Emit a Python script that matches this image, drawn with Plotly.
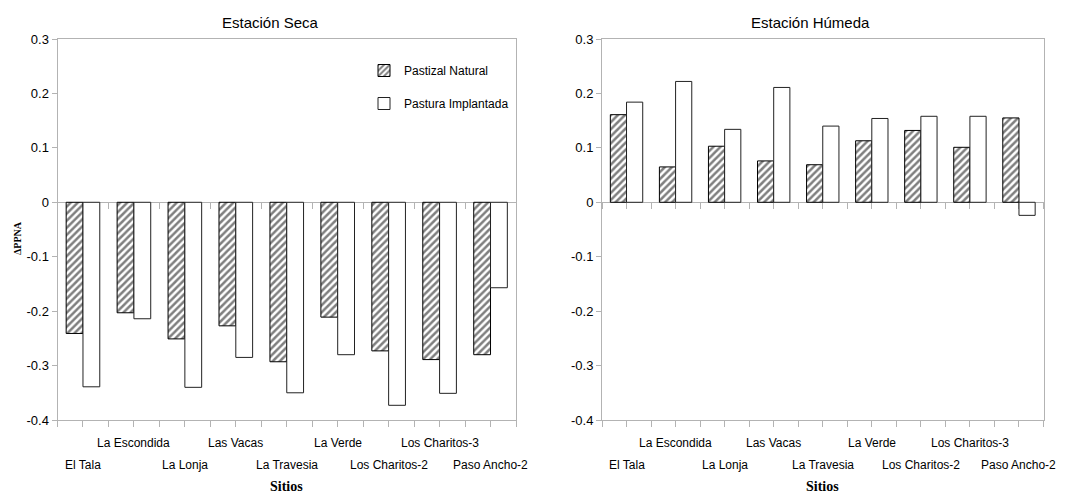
import plotly.graph_objects as go

sites = ["El Tala", "La Escondida", "La Lonja", "Las Vacas", "La Travesia",
         "La Verde", "Los Charitos-2", "Los Charitos-3", "Paso Ancho-2"]
seca_pastizal = [-0.241, -0.203, -0.251, -0.227, -0.293, -0.211, -0.273, -0.289, -0.280]
seca_pastura = [-0.339, -0.214, -0.340, -0.285, -0.350, -0.280, -0.373, -0.351, -0.157]
humeda_pastizal = [0.161, 0.065, 0.103, 0.076, 0.069, 0.113, 0.132, 0.101, 0.155]
humeda_pastura = [0.184, 0.222, 0.134, 0.211, 0.140, 0.154, 0.158, 0.158, -0.024]
series_names = ["Pastizal Natural", "Pastura Implantada"]
panel_titles = ["Estación Seca", "Estación Húmeda"]
y_tickvals = [0.3, 0.2, 0.1, 0, -0.1, -0.2, -0.3, -0.4]
y_ticktext = ["0.3", "0.2", "0.1", "0", "-0.1", "-0.2", "-0.3", "-0.4"]
x_title = "Sitios"
y_title = "ΔPPNA"

# page body has an 8px default margin; size the figure to fit the 1075x493 window
OFF = 8
W, H = 1075 - OFF, 493 - OFF


def px(x):
    return (x - OFF) / W


def py(y):
    return 1 - (y - OFF) / H


SANS = "Liberation Sans Narrow, Liberation Sans, Arial, sans-serif"
SERIF = "Liberation Serif, Times New Roman, serif"
GREY = "#b3b3b3"

xpos = list(range(len(sites)))
yrange = [-0.4, 0.3]
ydom = [py(420), py(39)]
xdoms = [[px(57.5), px(516)], [px(602), px(1043.5)]]
zero_pos = ydom[0] + (0 - yrange[0]) / (yrange[1] - yrange[0]) * (ydom[1] - ydom[0])

fig = go.Figure()

data = [(seca_pastizal, seca_pastura), (humeda_pastizal, humeda_pastura)]
for p, (a, b) in enumerate(data):
    xa = "x" if p == 0 else "x2"
    ya = "y" if p == 0 else "y2"
    fig.add_trace(go.Bar(
        x=xpos, y=a, name=series_names[0], xaxis=xa, yaxis=ya,
        showlegend=(p == 0), legendgroup="g1",
        marker=dict(color="white", line=dict(color="black", width=1),
                    pattern=dict(shape="/", fgcolor="black", bgcolor="white",
                                 size=5, solidity=0.5)),
    ))
    fig.add_trace(go.Bar(
        x=xpos, y=b, name=series_names[1], xaxis=xa, yaxis=ya,
        showlegend=(p == 0), legendgroup="g2",
        marker=dict(color="white", line=dict(color="#222222", width=1)),
    ))
    # empty helper traces for the zero-level tick axes
    fig.add_trace(go.Scatter(x=[], y=[], xaxis="x3" if p == 0 else "x4", yaxis=ya,
                             showlegend=False, hoverinfo="skip"))

common_x = dict(range=[-0.5, len(sites) - 0.5], tickmode="linear", tick0=-0.5, dtick=0.5,
                ticks="outside", ticklen=6, tickcolor=GREY, showticklabels=False,
                showline=True, linecolor=GREY, linewidth=1, mirror=True,
                showgrid=False, zeroline=False, fixedrange=True, automargin=False)
common_y = dict(range=yrange, tickmode="array", tickvals=y_tickvals, ticktext=y_ticktext,
                ticks="outside", ticklen=5, tickcolor=GREY,
                showline=True, linecolor=GREY, linewidth=1, mirror=True,
                showgrid=False, zeroline=True, zerolinecolor=GREY, zerolinewidth=1,
                tickfont=dict(family=SANS, size=13, color="black"), domain=ydom,
                automargin=False)
zero_x = dict(range=[-0.5, len(sites) - 0.5], tickmode="linear", tick0=-0.5, dtick=0.5,
              ticks="outside", ticklen=6, tickcolor=GREY, showticklabels=False,
              showline=False, showgrid=False, zeroline=False, anchor="free",
              position=zero_pos, layer="below traces", automargin=False)

fig.update_layout(
    width=W, height=H,
    margin=dict(l=0, r=0, t=0, b=0, autoexpand=False),
    paper_bgcolor="white", plot_bgcolor="white",
    barmode="group", bargap=0.34, bargroupgap=0,
    xaxis=dict(domain=xdoms[0], anchor="y", **common_x),
    xaxis2=dict(domain=xdoms[1], anchor="y2", **common_x),
    xaxis3=dict(overlaying="x", matches="x", **zero_x),
    xaxis4=dict(overlaying="x2", matches="x2", **zero_x),
    yaxis=dict(anchor="x", **common_y),
    yaxis2=dict(anchor="x2", **common_y),
    legend=dict(x=px(364), y=py(56), xanchor="left", yanchor="top",
                bgcolor="rgba(0,0,0,0)", font=dict(family=SANS, size=12, color="black"),
                tracegroupgap=14, itemwidth=30),
    showlegend=True,
)

ann = []
title_x = [px(270), px(810)]
label_x_axes = ["x", "x2"]
for p in range(2):
    ann.append(dict(text=panel_titles[p], x=title_x[p], y=py(22), xref="paper", yref="paper",
                    showarrow=False, font=dict(family=SANS, size=15, color="black"),
                    xanchor="center", yanchor="middle"))
    for i, s in enumerate(sites):
        ypx = 465 if i % 2 == 0 else 443
        ann.append(dict(text=s, x=xpos[i], y=py(ypx), xref=label_x_axes[p], yref="paper",
                        showarrow=False, font=dict(family=SANS, size=12, color="black"),
                        xanchor="center", yanchor="middle"))
    ann.append(dict(text="<b>" + x_title + "</b>", x=(xdoms[p][0] + xdoms[p][1]) / 2, y=py(486),
                    xref="paper", yref="paper", showarrow=False,
                    font=dict(family=SERIF, size=14, color="black"),
                    xanchor="center", yanchor="middle"))
ann.append(dict(text="<b>" + y_title + "</b>", x=px(17), y=py(238), xref="paper", yref="paper",
                showarrow=False, textangle=-90, font=dict(family=SERIF, size=10, color="black"),
                xanchor="center", yanchor="middle"))
fig.update_layout(annotations=ann)

fig.write_html("out.html")
